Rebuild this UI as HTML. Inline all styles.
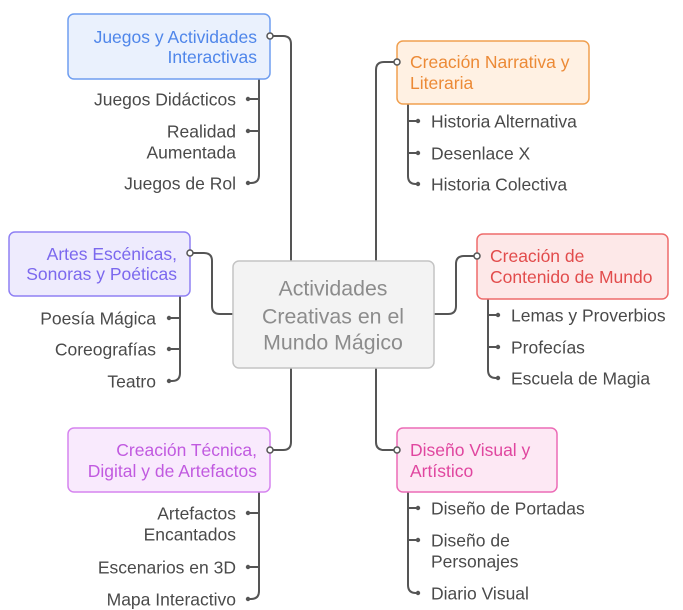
<!DOCTYPE html>
<html><head><meta charset="utf-8"><style>
html,body{margin:0;padding:0;background:#fff;}
svg{display:block;}
text{font-family:"Liberation Sans",Arial,sans-serif;}
.c{font-size:17.5px;fill:#4a4a4a;}
.b{font-size:17.5px;}
</style></head><body>
<svg width="683" height="610" viewBox="0 0 683 610" xmlns="http://www.w3.org/2000/svg">
<g fill="none" stroke="#555" stroke-width="2">
<path d="M270 36 H283 Q291 36 291 44 V261"/>
<path d="M397 62 H384 Q376 62 376 70 V261"/>
<path d="M190 253 H204 Q212 253 212 261 V306 Q212 314 220 314 H233"/>
<path d="M434 314 H448 Q456 314 456 306 V264 Q456 256 464 256 H477"/>
<path d="M291 368 V442 Q291 450 283 450 H270"/>
<path d="M376 368 V442 Q376 450 384 450 H397"/>
<path d="M259 79 V175 Q259 183 251 183 H248 M248 99 H259 M248 131 H259"/>
<path d="M408 104 V176 Q408 184 416 184 H418 M408 121 H418 M408 153 H418"/>
<path d="M180 296 V373 Q180 381 172 381 H169 M169 318 H180 M169 349 H180"/>
<path d="M488 299 V370 Q488 378 496 378 H498 M488 315 H498 M488 347 H498"/>
<path d="M259 492 V591 Q259 599 251 599 H248 M248 513 H259 M248 567 H259"/>
<path d="M408 492 V585 Q408 593 416 593 H418 M408 508 H418 M408 540 H418"/>
</g>
<g fill="#555">
<circle cx="248" cy="99" r="2.2"/><circle cx="248" cy="131" r="2.2"/><circle cx="248" cy="183" r="2.2"/>
<circle cx="418" cy="121" r="2.2"/><circle cx="418" cy="153" r="2.2"/><circle cx="418" cy="184" r="2.2"/>
<circle cx="169" cy="318" r="2.2"/><circle cx="169" cy="349" r="2.2"/><circle cx="169" cy="381" r="2.2"/>
<circle cx="498" cy="315" r="2.2"/><circle cx="498" cy="347" r="2.2"/><circle cx="498" cy="378" r="2.2"/>
<circle cx="248" cy="513" r="2.2"/><circle cx="248" cy="567" r="2.2"/><circle cx="248" cy="599" r="2.2"/>
<circle cx="418" cy="508" r="2.2"/><circle cx="418" cy="540" r="2.2"/><circle cx="418" cy="593" r="2.2"/>
</g>
<!-- center -->
<rect x="233" y="261" width="201" height="107" rx="6" fill="#f3f3f3" stroke="#c4c4c4" stroke-width="1.5"/>
<g font-size="21.3" fill="#8c8c8c" text-anchor="middle">
<text x="333" y="295.5">Actividades</text>
<text x="333" y="323.5">Creativas en el</text>
<text x="333" y="349.5">Mundo Mágico</text>
</g>
<!-- boxes -->
<rect x="68" y="14" width="202" height="65" rx="6" fill="#eaf1fd" stroke="#6f9ef0" stroke-width="1.5"/>
<g class="b" fill="#4f86ea" text-anchor="end"><text x="257" y="43">Juegos y Actividades</text><text x="257" y="63">Interactivas</text></g>
<rect x="397" y="41" width="192" height="63" rx="6" fill="#fff1e3" stroke="#f0a050" stroke-width="1.5"/>
<g class="b" fill="#ec8a36"><text x="410" y="68">Creación Narrativa y</text><text x="410" y="89">Literaria</text></g>
<rect x="9" y="232" width="181" height="64" rx="6" fill="#eeebfd" stroke="#8f80f4" stroke-width="1.5"/>
<g class="b" fill="#7b68ee" text-anchor="end"><text x="177" y="260">Artes Escénicas,</text><text x="177" y="280">Sonoras y Poéticas</text></g>
<rect x="477" y="234" width="191" height="65" rx="6" fill="#fde8e8" stroke="#ee6b6b" stroke-width="1.5"/>
<g class="b" fill="#e24c4c"><text x="490" y="262">Creación de</text><text x="490" y="283">Contenido de Mundo</text></g>
<rect x="68" y="428" width="202" height="64" rx="6" fill="#f9eafd" stroke="#d684ef" stroke-width="1.5"/>
<g class="b" fill="#c15ae0" text-anchor="end"><text x="257" y="456">Creación Técnica,</text><text x="257" y="477">Digital y de Artefactos</text></g>
<rect x="397" y="428" width="160" height="64" rx="6" fill="#fde8f4" stroke="#ec6cb6" stroke-width="1.5"/>
<g class="b" fill="#e0469f"><text x="410" y="456">Diseño Visual y</text><text x="410" y="477">Artístico</text></g>
<!-- open dots -->
<g fill="#fff" stroke="#555" stroke-width="1.5">
<circle cx="270" cy="36" r="3"/><circle cx="397" cy="62" r="3"/><circle cx="190" cy="253" r="3"/>
<circle cx="477" cy="256" r="3"/><circle cx="270" cy="450" r="3"/><circle cx="397" cy="450" r="3"/>
</g>
<!-- children -->
<g class="c" text-anchor="end">
<text x="236" y="105.5">Juegos Didácticos</text>
<text x="236" y="137.5">Realidad</text><text x="236" y="158.5">Aumentada</text>
<text x="236" y="189.5">Juegos de Rol</text>
<text x="156" y="324.5">Poesía Mágica</text>
<text x="156" y="355.5">Coreografías</text>
<text x="156" y="387.5">Teatro</text>
<text x="236" y="519.5">Artefactos</text><text x="236" y="540.5">Encantados</text>
<text x="236" y="573.5">Escenarios en 3D</text>
<text x="236" y="605.5">Mapa Interactivo</text>
</g>
<g class="c">
<text x="431" y="127.5">Historia Alternativa</text>
<text x="431" y="159.5">Desenlace X</text>
<text x="431" y="190.5">Historia Colectiva</text>
<text x="511" y="321.5">Lemas y Proverbios</text>
<text x="511" y="353.5">Profecías</text>
<text x="511" y="384.5">Escuela de Magia</text>
<text x="431" y="514.5">Diseño de Portadas</text>
<text x="431" y="546.5">Diseño de</text><text x="431" y="567.5">Personajes</text>
<text x="431" y="599.5">Diario Visual</text>
</g>
</svg>
</body></html>
